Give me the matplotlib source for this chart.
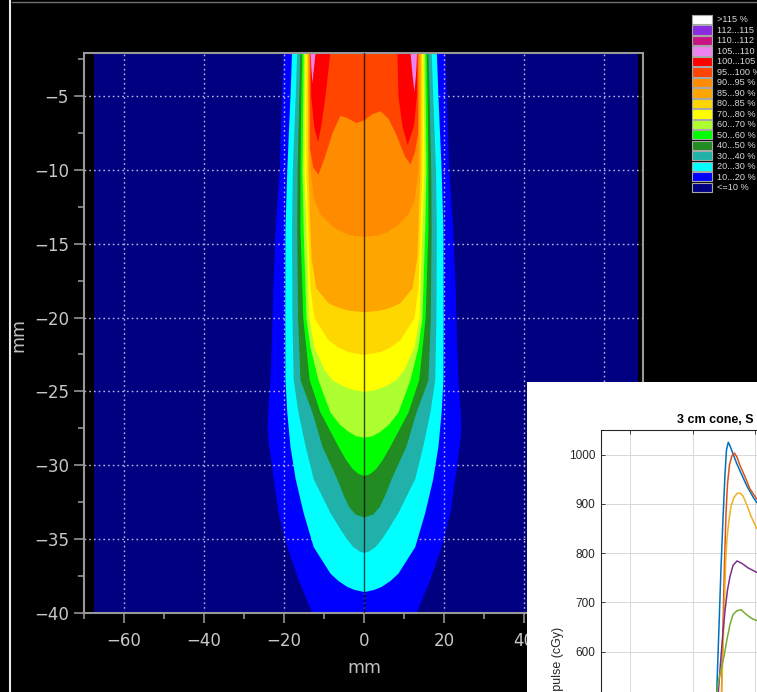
import numpy as np
import matplotlib.pyplot as plt
from matplotlib.lines import Line2D
from matplotlib.patches import Rectangle
from matplotlib.ticker import MultipleLocator

# isodose outlines: depth (mm) and half width (mm)
iso10_depth = [-2.0, -5, -10, -14, -18, -22, -24.2, -25.5, -26.5, -27.5, -28.5, -29.5, -30.9, -33.2, -35.5, -37.7, -40]
iso10_hw = [20.2, 20.6, 21.2, 22.2, 22.8, 23.2, 23.5, 23.85, 24.1, 24.2, 23.9, 23.4, 22.7, 21.5, 19.3, 16.5, 13.0]

iso20_depth = [-2.0, -5, -10, -14, -20, -24.2, -26.4, -28.7, -30.9, -33.2, -35.5, -37.3, -37.8, -38.2, -38.4, -38.55]
iso20_hw = [18.1, 18.5, 19.3, 19.75, 19.8, 19.75, 19.3, 18.5, 17.2, 15.2, 12.7, 8.5, 6.5, 4.3, 2.5, 0.0]

iso30_depth = [-2.0, -5, -10, -14, -20, -24.2, -26.4, -28.7, -30.9, -33.2, -34.3, -35.0, -35.5, -35.8, -35.9]
iso30_hw = [16.8, 17.2, 17.9, 18.1, 18.0, 17.7, 16.5, 14.7, 12.7, 8.5, 6.0, 4.3, 2.8, 1.2, 0.0]

iso40_depth = [-2.0, -5, -10, -14, -20, -24.2, -26.4, -28.7, -30.9, -32.0, -32.8, -33.3, -33.5]
iso40_hw = [16.0, 16.3, 16.7, 16.8, 16.6, 16.0, 13.0, 10.5, 6.8, 5.2, 3.8, 2.2, 0.0]

iso50_depth = [-2.0, -5, -10, -14, -20, -24.2, -26.4, -28.7, -29.6, -30.2, -30.55, -30.7]
iso50_hw = [15.6, 15.8, 16.0, 16.0, 15.3, 13.7, 11.0, 6.5, 4.6, 3.0, 1.5, 0.0]

iso60_depth = [-2.0, -5, -10, -14, -20, -22, -24.2, -26.4, -27.2, -27.7, -28.0, -28.1]
iso60_hw = [15.2, 15.3, 15.5, 15.2, 14.5, 13.5, 11.5, 8.5, 6.2, 4.0, 2.0, 0.0]

iso70_depth = [-2.0, -5, -10, -14, -20, -22, -23.5, -24.2, -24.6, -24.85, -25.0]
iso70_hw = [14.8, 14.9, 15.0, 14.5, 13.8, 12.5, 10.0, 8.0, 5.5, 3.0, 0.0]

iso80_depth = [-2.0, -5, -10, -14, -18, -20, -21.5, -22.0, -22.3, -22.5]
iso80_hw = [14.4, 14.5, 14.5, 14.0, 13.5, 12.5, 9.0, 6.5, 4.0, 0.0]

iso85_depth = [-2.0, -5, -10, -14, -16, -18, -19.0, -19.3, -19.5, -19.6]
iso85_hw = [14.1, 14.1, 14.0, 13.5, 13.2, 12.0, 9.0, 6.5, 4.0, 0.0]

iso90_depth = [-2.0, -5, -10, -12, -13, -13.8, -14.2, -14.4, -14.5]
iso90_hw = [13.8, 13.8, 13.5, 12.6, 11.0, 8.0, 5.5, 3.5, 0.0]

# 95 % region: lower edge as a function of x
iso95_x = [-13.65, -12.8, -11.5, -10.0, -8.0, -6.0, -4.0, -2.0, 0.0, 2.0, 4.0, 6.0, 8.0, 10.0, 11.5, 12.6, 13.45]
iso95_bottom = [-8.5, -9.8, -10.3, -9.2, -7.5, -6.3, -6.5, -6.8, -6.6, -6.2, -6.0, -6.5, -7.6, -9.0, -9.6, -8.8, -7.5]

# 100 % and 105 % side lobes: depth, inner and outer x
iso100_left_depth = [-2.0, -5.0, -7.0, -8.1]
iso100_left_inner = [-8.5, -9.75, -10.8, -11.6]
iso100_left_outer = [-13.5, -13.3, -12.6, -11.6]
iso100_right_depth = [-2.0, -5.0, -7.0, -8.3]
iso100_right_inner = [8.25, 8.5, 9.5, 10.8]
iso100_right_outer = [13.25, 13.1, 12.4, 10.8]

iso105_left_depth = [-2.0, -3.0, -4.1]
iso105_left_inner = [-12.2, -12.6, -13.0]
iso105_left_outer = [-13.5, -13.3, -13.0]
iso105_right_depth = [-2.0, -3.5, -4.7]
iso105_right_inner = [11.5, 12.0, 12.5]
iso105_right_outer = [13.2, 12.9, 12.5]

field_x = [-67.5, 68.4]
field_depth = [-40, -2.0]
central_axis = 0.0

legend_labels = [">115 %", "112...115 %", "110...112 %", "105...110 %", "100...105 %",
                 "95...100 %", "90...95 %", "85...90 %", "80...85 %", "70...80 %",
                 "60...70 %", "50...60 %", "40...50 %", "30...40 %", "20...30 %",
                 "10...20 %", "<=10 %"]
legend_colors = ["#ffffff", "#8a2be2", "#c71585", "#ee82ee", "#ff0000",
                 "#ff4500", "#ff8c00", "#ffa500", "#ffd700", "#ffff00",
                 "#adff2f", "#00ff00", "#228b22", "#20b2aa", "#00ffff",
                 "#0000ff", "#000080"]

# inset: dose per pulse profiles (only the part that shows)
blue_x = [-12.6, -12.26, -11.53, -10.88, -10.24, -9.6, -9.12, -8.54, -8.0, -6.93, -5.84, -4.79, -2.63, -0.51, 0.58]
blue_y = [440, 517, 650, 770, 870, 960, 1010, 1025, 1018, 1000, 982, 967, 937, 913, 903]
orange_x = [-11.0, -10.72, -10.24, -9.76, -9.28, -8.8, -8.15, -7.35, -6.55, -5.75, -4.79, -3.18, -1.57, 0.58]
orange_y = [440, 517, 650, 780, 880, 940, 980, 998, 1003, 995, 978, 955, 930, 910]
yellow_x = [-10.9, -10.66, -10.24, -9.76, -9.37, -8.96, -8.32, -7.67, -6.71, -5.75, -4.79, -3.82, -2.54, -1.25, 0.58]
yellow_y = [440, 517, 600, 700, 785, 830, 868, 895, 913, 921, 922, 916, 897, 875, 850]
purple_x = [-12.0, -11.75, -10.88, -10.24, -9.6, -8.8, -8.0, -7.03, -5.75, -4.14, -2.22, 0.58]
purple_y = [440, 517, 590, 640, 683, 725, 752, 775, 784, 779, 770, 761]
green_x = [-12.5, -12.26, -11.2, -9.92, -8.96, -8.0, -7.03, -5.75, -4.46, -2.86, -1.25, 0.58]
green_y = [440, 517, 555, 590, 625, 655, 675, 683, 685, 676, 668, 663]

W, H = 757, 692
fig = plt.figure(figsize=(W / 100, H / 100), dpi=100, facecolor="black")

# ---- main dose map
ax = fig.add_axes([84 / W, 1 - 613 / H, (642.7 - 84) / W, (613 - 53) / H])
ax.set_facecolor("black")
ax.set_xlim(-70, 69.7)
ax.set_ylim(-40, -2.09)

ax.fill_betweenx(field_depth, field_x[0], field_x[1], color="#000080", lw=0, zorder=0.2)

bands = [
    (iso10_depth, iso10_hw, "#0000ff", 0.3),
    (iso20_depth, iso20_hw, "#00ffff", 1),
    (iso30_depth, iso30_hw, "#20b2aa", 1),
    (iso40_depth, iso40_hw, "#228b22", 1),
    (iso50_depth, iso50_hw, "#00ff00", 1),
    (iso60_depth, iso60_hw, "#adff2f", 1),
    (iso70_depth, iso70_hw, "#ffff00", 1),
    (iso80_depth, iso80_hw, "#ffd700", 1),
    (iso85_depth, iso85_hw, "#ffa500", 1),
    (iso90_depth, iso90_hw, "#ff8c00", 1),
]
for depth, hw, col, z in bands:
    hw = np.array(hw)
    ax.fill_betweenx(depth, -hw, hw, color=col, lw=0, zorder=z)

ax.fill_between(iso95_x, iso95_bottom, field_depth[1], color="#ff4500", lw=0, zorder=1)
ax.fill_betweenx(iso100_left_depth, iso100_left_outer, iso100_left_inner, color="#ff0000", lw=0, zorder=1)
ax.fill_betweenx(iso100_right_depth, iso100_right_inner, iso100_right_outer, color="#ff0000", lw=0, zorder=1)
ax.fill_betweenx(iso105_left_depth, iso105_left_outer, iso105_left_inner, color="#ee82ee", lw=0, zorder=1)
ax.fill_betweenx(iso105_right_depth, iso105_right_inner, iso105_right_outer, color="#ee82ee", lw=0, zorder=1)

ax.axvline(central_axis, color="black", alpha=0.7, lw=1.0, zorder=3)

ax.set_axisbelow(True)
ax.grid(True, which="major", color="#b8b8e8", linestyle=(0, (1.2, 2.2)), linewidth=1.0)
ax.xaxis.set_major_locator(MultipleLocator(20))
ax.xaxis.set_minor_locator(MultipleLocator(10))
ax.yaxis.set_major_locator(MultipleLocator(5))
ax.yaxis.set_minor_locator(MultipleLocator(2.5))
ax.tick_params(which="major", length=7.2, width=1.1, color="#a0a0a0",
               labelcolor="#c8c8c8", labelsize=12)
ax.tick_params(which="minor", length=4.5, width=1.1, color="#a0a0a0")
ax.tick_params(axis="x", which="major", pad=6.5)
ax.tick_params(axis="y", which="major", pad=3.6)
for s in ax.spines.values():
    s.set_color("#999999")
    s.set_linewidth(1.5)

fig.text(364 / W, 1 - 673 / H, "mm", color="#c0c0c0", fontsize=12.5, ha="center", va="baseline")
fig.text(23 / W, 1 - 335 / H, "mm", color="#c0c0c0", fontsize=12.5, rotation=90,
         rotation_mode="anchor", ha="center", va="baseline")
fig.text(-1 / W, 1 - 43 / H, "mm", color="#c0c0c0", fontsize=14, rotation=90,
         rotation_mode="anchor", ha="center", va="baseline")

fig.add_artist(Line2D([10.3 / W, 10.3 / W], [0, 1], color="#e8e8e8", lw=1.5))
fig.add_artist(Line2D([12 / W, 1], [1 - 1.7 / H, 1 - 1.7 / H], color="#707070", lw=1))

# ---- legend
leg = fig.add_axes([680 / W, 1 - 200 / H, 77 / W, 200 / H])
leg.set_xlim(0, 77)
leg.set_ylim(200, 0)
leg.axis("off")
for i, (lab, col) in enumerate(zip(legend_labels, legend_colors)):
    y0 = 15 + i * 10.48
    leg.add_patch(Rectangle((12, y0), 20, 9.2, facecolor=col, edgecolor="#a8a8a8", lw=0.8))
    leg.text(37, y0 + 4.8, lab, va="center", fontsize=6.6, color="#d8d8d8",
             family="Liberation Sans", clip_on=False)

# ---- inset profile plot
bg = fig.add_axes([527 / W, 0, (W - 527) / W, (H - 382) / H], zorder=5)
bg.set_facecolor("white")
bg.set_xticks([])
bg.set_yticks([])
for s in bg.spines.values():
    s.set_visible(False)

ins = fig.add_axes([600.7 / W, 1 - 947 / H, 308.4 / W, 517 / H], zorder=6)
ins.set_xlim(-49.5, 49.5)
ins.set_ylim(0, 1050)
ins.set_xticks([-40, -20, 0, 20, 40])
ins.set_yticks(range(0, 1001, 100))
ins.grid(True, color="#d8d8d8", lw=0.7)
ins.set_axisbelow(True)
ins.tick_params(direction="in", length=3, width=0.6, color="#262626", labelcolor="#262626",
                labelsize=8.5, top=True, right=True, pad=4)
for lab in ins.get_yticklabels() + ins.get_xticklabels():
    lab.set_family("Liberation Sans")
for s in ins.spines.values():
    s.set_color("#262626")
    s.set_linewidth(0.8)

for xs, ys, col in [(blue_x, blue_y, "#0072BD"), (orange_x, orange_y, "#D95319"),
                    (yellow_x, yellow_y, "#EDB120"), (purple_x, purple_y, "#7E2F8E"),
                    (green_x, green_y, "#77AC30")]:
    ins.plot(xs, ys, color=col, lw=1.1)

fig.text(677 / W, 1 - 423 / H, "3 cm cone, S", fontsize=9, fontweight="bold",
         family="Liberation Sans", color="black", ha="left", va="baseline", zorder=7)
fig.text(560.5 / W, 1 - 627 / H, "Dose per pulse (cGy)", fontsize=9, family="Liberation Sans",
         color="#262626", rotation=90, rotation_mode="anchor", ha="right", va="baseline", zorder=7)

fig.savefig("out.png", dpi=100, facecolor="black")
